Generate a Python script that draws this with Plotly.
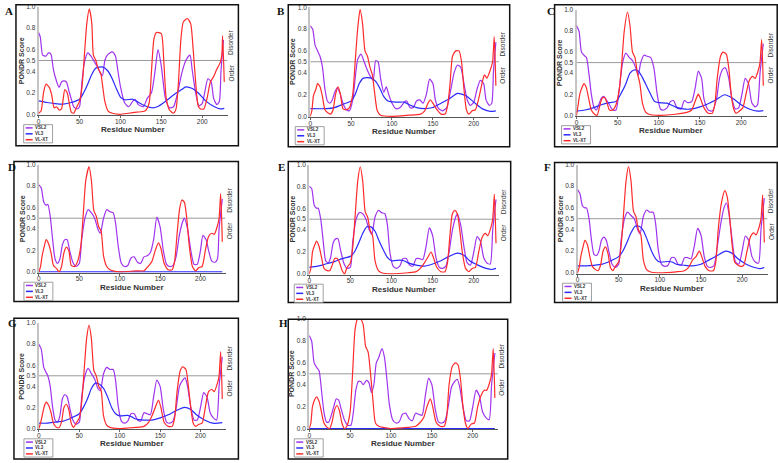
import plotly.graph_objects as go

W, H = 778, 463
XMAX = 231
YTICKS = [0, 0.2, 0.4, 0.5, 0.6, 0.8, 1.0]
YTICK_LABELS = ["0.0", "0.2", "0.4", "0.5", "0.6", "0.8", "1.0"]
XTICKS = [0, 50, 100, 150, 200]
SERIES_NAMES = ["VSL2", "VL3", "VL-XT"]
SERIES_COLORS = ["#a033ee", "#2a2aff", "#ff2a2a"]

# ---------------- data (residue, score) ----------------
A_VSL2 = [(0,0.76),(2,0.72),(5,0.55),(9,0.54),(12,0.57),(15,0.56),(18,0.42),(21,0.33),(25,0.25),(28,0.3),(31,0.31),(34,0.3),(37,0.22),(40,0.14),(43,0.07),(47,0.05),(50,0.07),(53,0.3),(56,0.48),(60,0.57),(64,0.54),(68,0.49),(72,0.44),(75,0.39),(78,0.36),(81,0.5),(84,0.55),(90,0.58),(94,0.54),(97,0.4),(100,0.26),(105,0.11),(110,0.07),(115,0.12),(118,0.14),(122,0.09),(128,0.07),(133,0.15),(138,0.2),(142,0.38),(146,0.6),(150,0.45),(155,0.15),(160,0.06),(165,0.07),(170,0.2),(175,0.38),(180,0.5),(185,0.55),(188,0.4),(192,0.2),(196,0.08),(200,0.1),(203,0.2),(207,0.33),(211,0.3),(214,0.15),(218,0.09),(221,0.12),(223,0.4),(226,0.69)]
A_VL3 = [(0,0.125),(10,0.11),(20,0.1),(30,0.095),(40,0.11),(50,0.14),(55,0.2),(60,0.28),(65,0.37),(70,0.43),(78,0.44),(85,0.4),(90,0.33),(95,0.24),(100,0.16),(105,0.135),(115,0.14),(120,0.12),(130,0.08),(140,0.06),(145,0.07),(155,0.12),(165,0.18),(175,0.23),(180,0.255),(188,0.24),(195,0.2),(205,0.12),(215,0.07),(222,0.05),(227,0.055)]
A_VLXT = [(0,0.01),(3,0.03),(6,0.2),(9,0.28),(13,0.25),(16,0.18),(19,0.06),(22,0.07),(25,0.04),(28,0.05),(32,0.23),(35,0.2),(38,0.08),(40,0.02),(43,0.01),(46,0.06),(50,0.12),(53,0.25),(56,0.55),(59,0.85),(62,0.98),(65,0.85),(67,0.55),(70,0.5),(73,0.42),(76,0.38),(78,0.28),(81,0.12),(85,0.03),(90,0.01),(100,0.0),(110,0.01),(120,0.02),(130,0.03),(135,0.1),(138,0.4),(141,0.7),(144,0.76),(150,0.75),(153,0.5),(156,0.15),(160,0.04),(165,0.01),(168,0.05),(171,0.3),(174,0.7),(177,0.86),(182,0.89),(186,0.84),(189,0.6),(192,0.3),(195,0.08),(198,0.05),(202,0.05),(206,0.15),(210,0.3),(214,0.35),(218,0.42),(222,0.48),(224,0.55),(225,0.73),(227,0.3)]

B_VSL2 = [(0,0.83),(3,0.8),(6,0.65),(9,0.6),(12,0.55),(15,0.45),(18,0.25),(21,0.14),(24,0.12),(27,0.15),(30,0.22),(33,0.26),(36,0.22),(40,0.12),(44,0.06),(48,0.05),(52,0.15),(55,0.35),(58,0.52),(62,0.57),(66,0.5),(70,0.42),(74,0.36),(77,0.33),(80,0.51),(83,0.5),(86,0.35),(90,0.22),(93,0.27),(96,0.2),(100,0.12),(105,0.07),(110,0.08),(115,0.13),(118,0.14),(122,0.08),(126,0.08),(130,0.14),(134,0.15),(138,0.12),(142,0.2),(146,0.34),(150,0.3),(153,0.15),(157,0.07),(162,0.05),(167,0.08),(172,0.25),(176,0.4),(180,0.47),(184,0.45),(188,0.3),(192,0.15),(196,0.1),(200,0.13),(204,0.25),(208,0.33),(212,0.3),(215,0.15),(219,0.1),(222,0.12),(224,0.4),(227,0.68)]
B_VL3 = [(0,0.07),(20,0.07),(30,0.08),(40,0.11),(50,0.14),(55,0.2),(60,0.3),(65,0.35),(75,0.35),(80,0.32),(85,0.26),(90,0.18),(95,0.14),(105,0.13),(115,0.13),(120,0.11),(130,0.08),(140,0.07),(150,0.08),(160,0.12),(170,0.16),(180,0.21),(190,0.19),(200,0.13),(210,0.07),(220,0.045),(227,0.05)]
B_VLXT = [(0,0.0),(2,0.05),(4,0.19),(7,0.25),(9,0.3),(12,0.27),(15,0.18),(18,0.06),(22,0.03),(25,0.02),(28,0.06),(31,0.2),(34,0.27),(37,0.2),(40,0.07),(44,0.06),(48,0.08),(52,0.2),(55,0.5),(58,0.8),(61,0.98),(64,0.85),(67,0.6),(70,0.55),(73,0.45),(76,0.38),(79,0.2),(82,0.05),(86,0.01),(100,0.0),(120,0.01),(135,0.02),(140,0.05),(144,0.12),(147,0.15),(150,0.12),(155,0.06),(160,0.02),(165,0.02),(168,0.1),(171,0.3),(174,0.55),(178,0.6),(182,0.6),(185,0.5),(188,0.25),(191,0.06),(194,0.02),(198,0.05),(202,0.06),(206,0.16),(210,0.3),(213,0.38),(216,0.35),(220,0.42),(223,0.5),(225,0.73),(227,0.28)]

C_VSL2 = [(0,0.85),(3,0.8),(6,0.6),(9,0.57),(12,0.55),(15,0.4),(18,0.2),(21,0.08),(24,0.05),(27,0.1),(30,0.16),(33,0.18),(36,0.15),(40,0.1),(44,0.05),(48,0.05),(52,0.25),(56,0.5),(60,0.59),(64,0.55),(68,0.52),(72,0.45),(75,0.38),(78,0.5),(82,0.57),(86,0.56),(90,0.55),(94,0.45),(98,0.2),(102,0.06),(106,0.05),(110,0.07),(114,0.13),(118,0.14),(122,0.07),(127,0.06),(131,0.14),(135,0.12),(140,0.13),(144,0.25),(148,0.42),(152,0.35),(155,0.15),(160,0.05),(165,0.04),(170,0.15),(174,0.36),(178,0.44),(181,0.45),(185,0.35),(189,0.15),(193,0.06),(197,0.07),(201,0.2),(205,0.35),(209,0.3),(213,0.12),(217,0.08),(220,0.1),(223,0.4),(227,0.68)]
C_VL3 = [(0,0.04),(10,0.05),(20,0.07),(30,0.1),(40,0.12),(48,0.13),(55,0.22),(60,0.3),(65,0.4),(70,0.43),(75,0.42),(80,0.36),(85,0.28),(90,0.2),(95,0.13),(100,0.12),(110,0.115),(120,0.08),(130,0.06),(140,0.06),(150,0.08),(160,0.11),(170,0.15),(180,0.195),(190,0.16),(200,0.1),(210,0.06),(220,0.04),(227,0.045)]
C_VLXT = [(0,0.0),(2,0.1),(4,0.2),(7,0.27),(9,0.3),(12,0.26),(15,0.15),(18,0.05),(22,0.01),(25,0.0),(28,0.08),(31,0.16),(34,0.17),(37,0.12),(40,0.05),(44,0.05),(48,0.1),(52,0.25),(55,0.5),(58,0.8),(62,0.98),(65,0.85),(68,0.6),(71,0.55),(74,0.4),(77,0.3),(80,0.12),(84,0.03),(88,0.01),(100,0.0),(120,0.01),(135,0.03),(140,0.05),(145,0.15),(148,0.2),(151,0.15),(155,0.07),(160,0.02),(165,0.02),(168,0.1),(171,0.35),(175,0.56),(178,0.6),(182,0.58),(185,0.45),(188,0.2),(191,0.06),(194,0.02),(198,0.04),(202,0.07),(206,0.2),(210,0.33),(214,0.37),(217,0.35),(221,0.43),(223,0.5),(225,0.72),(227,0.28)]

D_VSL2 = [(0,0.81),(3,0.78),(6,0.65),(9,0.62),(11,0.63),(14,0.52),(17,0.3),(20,0.12),(23,0.08),(26,0.12),(29,0.25),(32,0.3),(35,0.3),(38,0.2),(42,0.09),(46,0.05),(50,0.08),(53,0.3),(57,0.5),(61,0.58),(65,0.55),(69,0.5),(73,0.4),(76,0.36),(80,0.5),(84,0.58),(88,0.56),(92,0.55),(95,0.45),(98,0.25),(102,0.08),(106,0.05),(110,0.06),(114,0.13),(118,0.14),(122,0.09),(126,0.08),(130,0.14),(134,0.15),(138,0.18),(142,0.3),(146,0.51),(150,0.42),(154,0.2),(158,0.07),(162,0.05),(166,0.06),(170,0.15),(174,0.35),(178,0.47),(180,0.5),(184,0.4),(188,0.2),(192,0.07),(196,0.07),(200,0.2),(203,0.34),(207,0.3),(210,0.2),(214,0.1),(218,0.09),(221,0.12),(223,0.4),(227,0.68)]
D_VL3 = [(0,0.0),(227,0.0)]
D_VLXT = [(0,0.0),(2,0.05),(4,0.15),(7,0.25),(9,0.3),(12,0.26),(15,0.18),(18,0.06),(22,0.03),(25,0.0),(28,0.05),(31,0.18),(34,0.23),(37,0.2),(40,0.06),(44,0.05),(48,0.1),(52,0.25),(55,0.55),(58,0.85),(62,0.98),(65,0.85),(68,0.57),(71,0.52),(74,0.42),(77,0.38),(80,0.15),(84,0.05),(88,0.02),(100,0.0),(120,0.01),(130,0.01),(135,0.05),(140,0.1),(144,0.2),(148,0.27),(151,0.22),(155,0.08),(160,0.02),(165,0.02),(168,0.1),(171,0.35),(174,0.58),(177,0.67),(180,0.65),(183,0.5),(186,0.25),(190,0.05),(194,0.01),(198,0.04),(202,0.05),(206,0.2),(210,0.33),(214,0.36),(217,0.35),(221,0.43),(223,0.5),(225,0.73),(227,0.28)]

E_VSL2 = [(0,0.8),(3,0.78),(6,0.63),(9,0.6),(11,0.6),(14,0.5),(17,0.3),(20,0.12),(23,0.1),(26,0.15),(29,0.28),(32,0.32),(35,0.32),(38,0.22),(42,0.1),(46,0.05),(50,0.06),(53,0.3),(57,0.5),(61,0.56),(65,0.55),(69,0.5),(73,0.4),(76,0.36),(80,0.52),(84,0.58),(88,0.56),(92,0.55),(95,0.45),(98,0.2),(102,0.07),(106,0.05),(110,0.07),(114,0.14),(118,0.14),(122,0.08),(126,0.07),(130,0.14),(134,0.14),(138,0.13),(142,0.25),(146,0.42),(150,0.35),(154,0.15),(158,0.06),(162,0.05),(166,0.07),(170,0.2),(174,0.4),(178,0.52),(180,0.55),(184,0.45),(188,0.25),(192,0.1),(196,0.08),(200,0.2),(204,0.34),(208,0.3),(212,0.15),(216,0.1),(220,0.09),(223,0.4),(227,0.68)]
E_VL3 = [(0,0.06),(10,0.07),(20,0.09),(30,0.11),(40,0.14),(50,0.16),(55,0.2),(60,0.28),(65,0.37),(70,0.43),(75,0.43),(80,0.39),(85,0.3),(90,0.22),(95,0.15),(100,0.12),(110,0.125),(115,0.12),(120,0.1),(130,0.08),(140,0.07),(150,0.09),(160,0.12),(170,0.16),(180,0.19),(188,0.17),(195,0.12),(205,0.08),(215,0.05),(222,0.04),(227,0.05)]
E_VLXT = [(0,0.0),(2,0.05),(4,0.2),(7,0.27),(9,0.3),(12,0.25),(15,0.15),(18,0.05),(22,0.03),(25,0.03),(28,0.08),(31,0.14),(34,0.14),(37,0.1),(40,0.03),(43,0.0),(46,0.06),(50,0.1),(53,0.25),(56,0.55),(59,0.85),(62,0.98),(65,0.85),(68,0.57),(71,0.52),(74,0.4),(77,0.35),(80,0.12),(84,0.03),(88,0.01),(100,0.0),(120,0.01),(130,0.02),(135,0.05),(140,0.1),(144,0.15),(148,0.2),(151,0.15),(155,0.06),(160,0.02),(165,0.02),(168,0.1),(171,0.35),(174,0.55),(177,0.58),(180,0.55),(183,0.4),(186,0.2),(190,0.05),(194,0.02),(198,0.05),(202,0.06),(206,0.2),(210,0.33),(214,0.37),(217,0.35),(221,0.43),(223,0.5),(225,0.73),(227,0.28)]

F_VSL2 = [(0,0.77),(3,0.73),(6,0.62),(9,0.6),(11,0.6),(14,0.5),(17,0.3),(20,0.17),(23,0.16),(26,0.2),(29,0.3),(32,0.33),(35,0.3),(38,0.2),(42,0.08),(46,0.05),(50,0.08),(53,0.3),(57,0.5),(61,0.56),(65,0.53),(69,0.5),(73,0.4),(76,0.36),(80,0.52),(84,0.58),(88,0.56),(92,0.56),(95,0.45),(98,0.22),(102,0.08),(106,0.06),(110,0.07),(114,0.14),(118,0.14),(122,0.08),(126,0.07),(130,0.14),(134,0.14),(138,0.13),(142,0.25),(146,0.41),(150,0.35),(154,0.15),(158,0.06),(162,0.05),(166,0.07),(170,0.25),(174,0.45),(178,0.6),(181,0.645),(184,0.55),(188,0.3),(192,0.1),(196,0.08),(200,0.2),(204,0.34),(208,0.3),(212,0.15),(216,0.1),(220,0.09),(223,0.4),(227,0.69)]
F_VL3 = [(0,0.065),(10,0.065),(20,0.07),(30,0.08),(40,0.11),(50,0.15),(55,0.2),(60,0.28),(65,0.37),(70,0.43),(75,0.43),(80,0.39),(85,0.3),(90,0.2),(95,0.13),(100,0.1),(110,0.105),(115,0.1),(120,0.08),(130,0.07),(140,0.065),(150,0.08),(160,0.12),(170,0.16),(180,0.2),(188,0.18),(195,0.13),(205,0.08),(215,0.05),(222,0.04),(227,0.05)]
F_VLXT = [(0,0.0),(2,0.05),(4,0.15),(7,0.25),(9,0.3),(12,0.26),(15,0.15),(18,0.06),(22,0.03),(25,0.02),(28,0.07),(31,0.2),(34,0.24),(37,0.18),(40,0.05),(43,0.02),(46,0.06),(50,0.1),(53,0.25),(56,0.55),(59,0.85),(62,0.98),(65,0.85),(68,0.57),(71,0.52),(74,0.4),(77,0.35),(80,0.12),(84,0.03),(88,0.01),(100,0.0),(120,0.01),(130,0.02),(135,0.05),(140,0.12),(144,0.15),(148,0.2),(151,0.15),(155,0.06),(160,0.02),(165,0.02),(168,0.1),(171,0.4),(175,0.65),(179,0.76),(182,0.7),(185,0.5),(188,0.25),(191,0.1),(195,0.07),(199,0.06),(202,0.07),(206,0.2),(210,0.33),(214,0.37),(217,0.35),(221,0.43),(223,0.5),(225,0.72),(227,0.28)]

G_VSL2 = [(0,0.8),(3,0.75),(6,0.58),(9,0.53),(11,0.5),(14,0.4),(17,0.2),(20,0.08),(23,0.06),(26,0.12),(29,0.28),(32,0.32),(35,0.3),(38,0.2),(42,0.08),(46,0.04),(50,0.06),(53,0.3),(57,0.5),(61,0.57),(65,0.52),(69,0.47),(73,0.38),(76,0.36),(80,0.52),(84,0.58),(88,0.56),(92,0.56),(95,0.45),(98,0.22),(102,0.07),(106,0.05),(110,0.07),(114,0.14),(118,0.14),(122,0.08),(126,0.07),(130,0.15),(134,0.14),(138,0.13),(142,0.3),(146,0.46),(150,0.4),(154,0.18),(158,0.06),(162,0.05),(166,0.07),(170,0.2),(174,0.4),(178,0.46),(181,0.48),(184,0.4),(188,0.2),(192,0.08),(196,0.08),(200,0.2),(204,0.34),(208,0.3),(212,0.15),(216,0.1),(220,0.08),(223,0.4),(227,0.68)]
G_VL3 = [(0,0.05),(10,0.05),(20,0.06),(30,0.07),(40,0.1),(50,0.14),(55,0.2),(60,0.28),(65,0.38),(70,0.43),(75,0.42),(80,0.38),(85,0.3),(90,0.2),(95,0.14),(100,0.12),(110,0.125),(115,0.11),(120,0.09),(130,0.08),(140,0.08),(150,0.1),(160,0.13),(170,0.17),(180,0.2),(188,0.18),(195,0.13),(205,0.08),(215,0.05),(222,0.05),(227,0.055)]
G_VLXT = [(0,0.0),(2,0.05),(4,0.12),(7,0.22),(9,0.25),(12,0.22),(15,0.15),(18,0.05),(22,0.01),(25,0.01),(28,0.06),(31,0.2),(34,0.23),(37,0.18),(40,0.05),(43,0.01),(46,0.05),(50,0.1),(53,0.25),(56,0.55),(59,0.85),(62,0.98),(65,0.85),(68,0.55),(71,0.5),(74,0.4),(77,0.36),(80,0.12),(84,0.03),(88,0.01),(100,0.0),(120,0.01),(130,0.02),(135,0.05),(140,0.12),(144,0.2),(148,0.27),(151,0.2),(155,0.06),(160,0.02),(165,0.02),(168,0.1),(171,0.35),(175,0.55),(178,0.586),(182,0.56),(185,0.4),(188,0.2),(191,0.05),(194,0.02),(198,0.04),(202,0.05),(206,0.2),(210,0.35),(214,0.37),(217,0.35),(221,0.43),(223,0.5),(225,0.73),(227,0.28)]

H_VSL2 = [(0,0.85),(3,0.8),(6,0.6),(9,0.56),(12,0.53),(15,0.35),(18,0.15),(21,0.06),(24,0.06),(27,0.12),(30,0.2),(33,0.27),(36,0.26),(39,0.18),(43,0.08),(47,0.03),(51,0.03),(54,0.15),(57,0.35),(60,0.43),(63,0.43),(66,0.4),(70,0.44),(73,0.42),(76,0.33),(79,0.4),(82,0.6),(85,0.65),(89,0.73),(92,0.65),(95,0.45),(98,0.22),(102,0.08),(106,0.05),(110,0.06),(114,0.13),(118,0.14),(122,0.09),(126,0.07),(130,0.14),(134,0.13),(138,0.12),(142,0.3),(146,0.46),(150,0.4),(154,0.18),(158,0.06),(162,0.05),(166,0.07),(170,0.2),(174,0.38),(178,0.43),(181,0.45),(184,0.38),(188,0.2),(192,0.07),(196,0.07),(200,0.2),(204,0.35),(208,0.3),(212,0.15),(216,0.1),(220,0.08),(223,0.4),(227,0.69)]
H_VL3 = [(0,0.0),(227,0.0)]
H_VLXT = [(0,0.0),(2,0.05),(4,0.2),(7,0.27),(9,0.29),(12,0.25),(15,0.15),(18,0.05),(22,0.01),(25,0.0),(28,0.06),(31,0.17),(34,0.21),(37,0.16),(40,0.05),(43,0.0),(46,0.02),(50,0.15),(53,0.5),(56,0.9),(59,1.0),(63,1.0),(66,0.95),(69,0.75),(72,0.7),(75,0.5),(78,0.25),(81,0.05),(85,0.02),(90,0.01),(100,0.0),(120,0.01),(130,0.02),(135,0.05),(140,0.1),(144,0.2),(148,0.27),(151,0.2),(155,0.06),(160,0.02),(165,0.02),(168,0.1),(171,0.4),(175,0.57),(179,0.6),(182,0.58),(185,0.45),(188,0.2),(191,0.05),(194,0.0),(198,0.04),(202,0.05),(206,0.2),(210,0.3),(214,0.35),(217,0.35),(221,0.43),(223,0.5),(225,0.73),(227,0.28)]

PANEL_LETTERS = ["A", "B", "C", "D", "E", "F", "G", "H"]
PANEL_DATA = [
    (A_VSL2, A_VL3, A_VLXT), (B_VSL2, B_VL3, B_VLXT), (C_VSL2, C_VL3, C_VLXT),
    (D_VSL2, D_VL3, D_VLXT), (E_VSL2, E_VL3, E_VLXT), (F_VSL2, F_VL3, F_VLXT),
    (G_VSL2, G_VL3, G_VLXT), (H_VSL2, H_VL3, H_VLXT),
]

# ---------------- layout geometry (pixels) ----------------
# x0: pixel of residue 0, ppr: pixels per residue, y0: pixel of 0.0, y1: pixel of 1.0
GEOM = [
    dict(x0=36.7, ppr=0.820, y0=112, y1=2.7, frame=(14, 0.8, 237, 144), letter=(2, 7)),
    dict(x0=309, ppr=0.820, y0=114, y1=3.3, frame=(287, 0.8, 509, 145), letter=(275, 7)),
    dict(x0=576, ppr=0.825, y0=113, y1=6, frame=(554, 0.8, 777.2, 145), letter=(545, 7)),
    dict(x0=37, ppr=0.810, y0=272, y1=163, frame=(12, 160, 237, 302), letter=(5, 166)),
    dict(x0=308, ppr=0.825, y0=274, y1=163, frame=(287, 160, 510, 303), letter=(276, 166)),
    dict(x0=577, ppr=0.825, y0=273, y1=163, frame=(554, 161, 777.2, 303), letter=(542, 166)),
    dict(x0=37, ppr=0.810, y0=431, y1=324, frame=(12, 319, 237, 462), letter=(5, 324)),
    dict(x0=308, ppr=0.820, y0=431, y1=320, frame=(287, 320, 507, 462), letter=(277, 324)),
]

FONT = "Liberation Sans, Arial, sans-serif"
YMIN = -0.006


def px(x):
    return x / W


def py(y):
    return 1 - y / H


def text_ann(x, y, text, size, angle=0, xanchor="center", color="#333", family=FONT):
    return dict(xref="paper", yref="paper", x=px(x), y=py(y), xanchor=xanchor, yanchor="middle",
                text=text, textangle=angle, showarrow=False, borderpad=0,
                font=dict(family=family, size=size, color=color))


fig = go.Figure()
shapes = []
annotations = []
layout_axes = {}

for i, (letter, data, g) in enumerate(zip(PANEL_LETTERS, PANEL_DATA, GEOM)):
    n = "" if i == 0 else str(i + 1)
    xa, ya = "x" + n, "y" + n
    xr = g["x0"] + XMAX * g["ppr"]
    ypu = g["y0"] - g["y1"]  # pixels per unit score
    ybot = g["y0"] - YMIN * ypu
    layout_axes["xaxis" + n] = dict(
        domain=[px(g["x0"]), px(xr)], range=[0, XMAX], anchor=ya,
        tickvals=XTICKS, ticks="outside", ticklen=2, tickcolor="#666", ticklabelstandoff=-2,
        showgrid=False, zeroline=False, showline=True, linecolor="#555", linewidth=1,
        layer="below traces",
        tickfont=dict(family=FONT, size=6.5, color="#333"),
        fixedrange=True,
    )
    layout_axes["yaxis" + n] = dict(
        domain=[py(ybot), py(g["y1"])], range=[YMIN, 1.0], anchor=xa,
        tickvals=YTICKS, ticktext=YTICK_LABELS, ticks="", showgrid=False, zeroline=False,
        showline=True, linecolor="#c4c4c4", linewidth=2, layer="below traces",
        tickfont=dict(family=FONT, size=6.5, color="#333"),
        fixedrange=True,
    )
    # threshold line at 0.5
    shapes.append(dict(type="line", xref=xa, yref=ya, x0=0, x1=XMAX, y0=0.5, y1=0.5,
                       line=dict(color="#9a9a9a", width=1), layer="below"))
    for name, color, pts in zip(SERIES_NAMES, SERIES_COLORS, data):
        fig.add_trace(go.Scatter(
            x=[p[0] for p in pts], y=[p[1] for p in pts], mode="lines", name=name,
            line=dict(color=color, width=1.2, shape="spline", smoothing=0.6),
            xaxis=xa, yaxis=ya, showlegend=False, hoverinfo="skip",
        ))
    # frame
    fl, ft, fr, fb = g["frame"]
    shapes.append(dict(type="rect", xref="paper", yref="paper", x0=px(fl), x1=px(fr), y0=py(fb), y1=py(ft),
                       line=dict(color="#111", width=1.5), layer="above"))
    # axis titles
    annotations.append(text_ann(g["x0"] + 115 * g["ppr"], g["y0"] + 15.5, "<b>Residue Number</b>", 8))
    annotations.append(text_ann(g["x0"] - 17, g["y0"] - 0.5 * ypu, "<b>PONDR Score</b>", 7, angle=-90))
    # Disorder / Order labels (right of the plotting area)
    lab_x = g["x0"] + 235.5 * g["ppr"]
    annotations.append(text_ann(lab_x, g["y0"] - 0.665 * ypu, "Disorder", 6.5, angle=-90))
    annotations.append(text_ann(lab_x, g["y0"] - 0.38 * ypu, "Order", 6.5, angle=-90))
    # panel letter
    lx, ly = g["letter"]
    annotations.append(text_ann(lx, ly, "<b>%s</b>" % letter, 11, xanchor="left", color="#111",
                                family="Liberation Serif, Times New Roman, serif"))
    # legend box
    bl, br = g["x0"] - 15, g["x0"] + 14
    bt, bb = g["y0"] + 10.5, g["y0"] + 29
    shapes.append(dict(type="rect", xref="paper", yref="paper", x0=px(bl), x1=px(br), y0=py(bb), y1=py(bt),
                       line=dict(color="#888", width=0.8), fillcolor="white"))
    for k, (name, color) in enumerate(zip(SERIES_NAMES, SERIES_COLORS)):
        yy = bt + 3.3 + k * 6.0
        shapes.append(dict(type="line", xref="paper", yref="paper", x0=px(bl + 2), x1=px(bl + 9),
                           y0=py(yy), y1=py(yy), line=dict(color=color, width=1.5)))
        annotations.append(text_ann(bl + 10.5, yy, "<b>%s</b>" % name, 4.5, xanchor="left"))

fig.update_layout(
    width=W, height=H, margin=dict(l=0, r=0, t=0, b=0),
    paper_bgcolor="white", plot_bgcolor="white",
    shapes=shapes, annotations=annotations, showlegend=False,
    **layout_axes,
)

fig.write_html(
    "out.html",
    config={"displayModeBar": False},
    post_script="document.body.style.margin='0px';document.body.style.overflow='hidden';",
)
